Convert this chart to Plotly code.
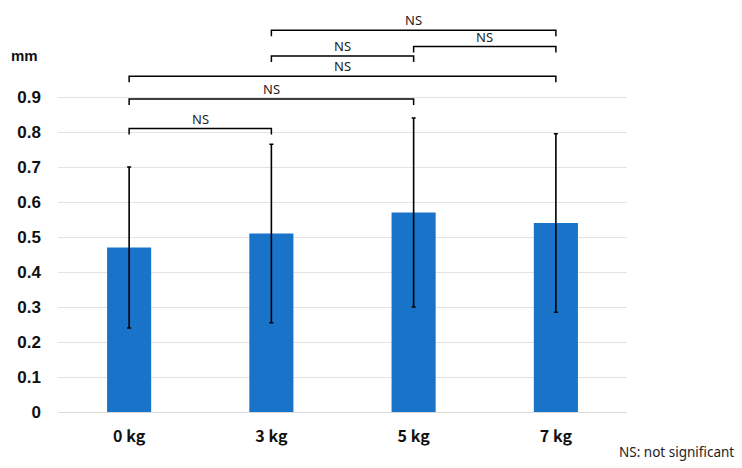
import plotly.graph_objects as go

categories = ["0 kg", "3 kg", "5 kg", "7 kg"]
means = [0.47, 0.51, 0.57, 0.54]
sds = [0.23, 0.255, 0.27, 0.255]
y_ticks = [0, 0.1, 0.2, 0.3, 0.4, 0.5, 0.6, 0.7, 0.8, 0.9]
y_tick_labels = ["0", "0.1", "0.2", "0.3", "0.4", "0.5", "0.6", "0.7", "0.8", "0.9"]
# comparisons: (index a, index b, bracket height in mm, label)
comparisons = [
    (0, 1, 0.81, "NS"),
    (0, 2, 0.894, "NS"),
    (0, 3, 0.959, "NS"),
    (1, 2, 1.017, "NS"),
    (2, 3, 1.044, "NS"),
    (1, 3, 1.091, "NS"),
]

W, H = 742, 468
ml, mr, mt, mb = 58, 115, 20, 56
pw, ph = W - ml - mr, H - mt - mb
y_max = 1.12
tick_drop = 6 * y_max / ph

fig = go.Figure()
fig.add_trace(go.Bar(
    x=categories, y=means,
    marker=dict(color="#1873c9", line=dict(width=0)),
    error_y=dict(type="data", array=sds, visible=True, color="black", thickness=1.6, width=2),
    width=0.31,
))

shapes = []
annotations = []
for a, b, h, lab in comparisons:
    shapes.append(dict(type="path", xref="x", yref="y",
                       path=f"M {a},{h - tick_drop} L {a},{h} L {b},{h} L {b},{h - tick_drop}",
                       line=dict(color="black", width=1.5)))
    annotations.append(dict(x=(a + b) / 2, y=h, xref="x", yref="y", text=lab, showarrow=False,
                            yanchor="bottom", yshift=-1,
                            font=dict(family="Noto Sans", size=13, color="#222")))

annotations.append(dict(x=(9 - ml) / pw, y=(H - mb - 55) / ph, xref="paper", yref="paper",
                        text="<b>mm</b>", showarrow=False, xanchor="left", yanchor="middle",
                        font=dict(family="Liberation Sans", size=15, color="#111")))
annotations.append(dict(x=(736 - ml) / pw, y=(H - mb - 452) / ph,
                        xref="paper", yref="paper", text="NS: not significant", showarrow=False,
                        xanchor="right", yanchor="middle",
                        font=dict(family="Noto Sans", size=13.5, color="#222")))

fig.update_layout(
    width=W, height=H,
    margin=dict(l=ml, r=mr, t=mt, b=mb),
    plot_bgcolor="white", paper_bgcolor="white",
    showlegend=False,
    shapes=shapes,
    annotations=annotations,
    xaxis=dict(categoryorder="array", categoryarray=categories, range=[-0.5, 3.5],
               showgrid=False, showline=False, ticks="", ticklabelstandoff=13, automargin=False,
               tickfont=dict(family="Noto Sans CJK JP", size=16, color="#111", weight="bold")),
    yaxis=dict(range=[0, y_max], tickvals=y_ticks, ticktext=y_tick_labels,
               showgrid=True, gridcolor="#e3e3e3", gridwidth=1, zeroline=True,
               zerolinecolor="#dcdcdc", zerolinewidth=1, showline=False, ticks="",
               ticklabelstandoff=16, automargin=False,
               tickfont=dict(family="Liberation Sans", size=17, color="#111", weight="bold")),
)

fig.write_html("out.html", config={"displayModeBar": False},
               post_script="document.body.style.margin='0';")
